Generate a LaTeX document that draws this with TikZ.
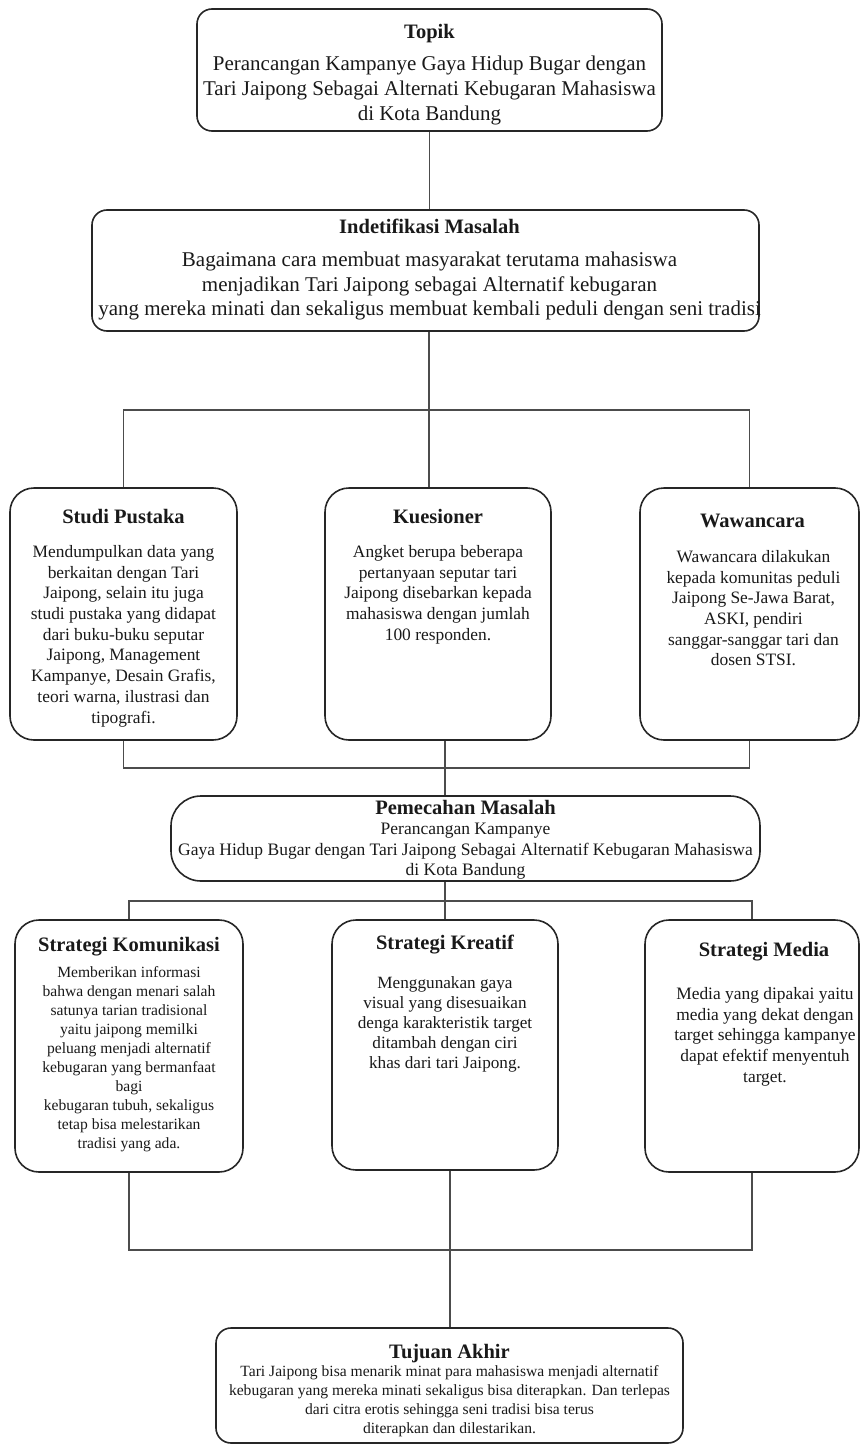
\documentclass[tikz,border=0pt]{standalone}
\usepackage{fontspec}
\setmainfont{Liberation Serif}
\usetikzlibrary{positioning}

\tikzset{
  kotak/.style={draw=black!85, line width=1.6pt, rounded corners=#1, inner sep=0pt},
  kotak/.default=24pt,
  judul/.style={inner sep=0pt, text=black!90, font=\fontsize{20.5}{24}\selectfont\bfseries},
  isi/.style={inner sep=0pt, align=center, text=black!90, font=\fontsize{17.4}{20.7}\selectfont},
  garis/.style={draw=black!70, line width=1.2pt}
}

\begin{document}
\begin{tikzpicture}[x=1pt,y=-1pt]
\useasboundingbox (0,0) rectangle (860,1447);

% kotak-kotak
\node[kotak=15pt, minimum width=465pt, minimum height=122pt] (topik) at (429.5,70) {};
\node[kotak=15pt, minimum width=667pt, minimum height=121pt] (masalah) at (425.5,270.5) {};

\node[kotak, minimum width=227pt, minimum height=252pt] (pustaka) at (123.5,614) {};
\node[kotak, minimum width=226pt, minimum height=252pt] (kuesioner) at (438,614) {};
\node[kotak, minimum width=219pt, minimum height=252pt] (wawancara) at (749.5,614) {};

\node[kotak=30pt, minimum width=589pt, minimum height=85pt] (pemecahan) at (465.5,838.5) {};

\node[kotak, minimum width=228pt, minimum height=252pt] (komunikasi) at (129,1046) {};
\node[kotak, minimum width=226pt, minimum height=250pt] (kreatif) at (445,1045) {};
\node[kotak, minimum width=214pt, minimum height=252pt] (media) at (752,1046) {};

\node[kotak=15pt, minimum width=467pt, minimum height=115pt] (tujuan) at (449.5,1385.5) {};

% titik cabang
\coordinate (cabang1) at (429,410);
\coordinate (cabang2) at (445,768);
\coordinate (cabang3) at (445,901);
\coordinate (cabang4) at (450,1250);

% garis penghubung
\draw[garis] (topik.south) -- (topik.south |- masalah.north);
\draw[garis] (masalah.south -| cabang1) -- (cabang1);
\draw[garis] (pustaka.north) |- (cabang1) -| (wawancara.north);
\draw[garis] (cabang1) -- (cabang1 |- kuesioner.north);

\draw[garis] (pustaka.south) |- (cabang2) -| (wawancara.south);
\draw[garis] (kuesioner.south -| cabang2) -- (cabang2 |- pemecahan.north);
\draw[garis] (pemecahan.south -| cabang3) -- (cabang3);
\draw[garis] (komunikasi.north) |- (cabang3) -| (media.north);
\draw[garis] (cabang3) -- (cabang3 |- kreatif.north);

\draw[garis] (komunikasi.south) |- (cabang4) -| (media.south);
\draw[garis] (kreatif.south -| cabang4) -- (cabang4 |- tujuan.north);

% teks
\node[judul, below=16pt of topik.north] (topikjudul) {Topik};
\node[isi, font=\fontsize{21}{25}\selectfont, below=48pt of topik.north] (topikisi)
  {Perancangan Kampanye Gaya Hidup Bugar dengan\\Tari Jaipong Sebagai Alternati Kebugaran Mahasiswa\\di Kota Bandung};

\node[judul, below=10pt of masalah.north, xshift=4pt] (masalahjudul) {Indetifikasi Masalah};
\node[isi, font=\fontsize{21}{24.5}\selectfont, below=43pt of masalah.north, xshift=4pt] (masalahisi)
  {Bagaimana cara membuat masyarakat terutama mahasiswa\\menjadikan Tari Jaipong sebagai Alternatif kebugaran\\yang mereka minati dan sekaligus membuat kembali peduli dengan seni tradisi};

\node[judul, below=22pt of pustaka.north] (pustakajudul) {Studi Pustaka};
\node[isi, below=58pt of pustaka.north] (pustakaisi)
  {Mendumpulkan data yang\\berkaitan dengan Tari\\Jaipong, selain itu juga\\studi pustaka yang didapat\\dari buku-buku seputar\\Jaipong, Management\\Kampanye, Desain Grafis,\\teori warna, ilustrasi dan\\tipografi.};

\node[judul, below=22pt of kuesioner.north] (kuesionerjudul) {Kuesioner};
\node[isi, below=58pt of kuesioner.north] (kuesionerisi)
  {Angket berupa beberapa\\pertanyaan seputar tari\\Jaipong disebarkan kepada\\mahasiswa dengan jumlah\\100 responden.};

\node[judul, below=27pt of wawancara.north, xshift=3pt] (wawancarajudul) {Wawancara};
\node[isi, below=63pt of wawancara.north, xshift=4pt] (wawancaraisi)
  {Wawancara dilakukan\\kepada komunitas peduli\\Jaipong Se-Jawa Barat,\\ASKI, pendiri\\sanggar-sanggar tari dan\\dosen STSI.};

\node[judul, below=5pt of pemecahan.north] (pemecahanjudul) {Pemecahan Masalah};
\node[isi, font=\fontsize{17.5}{20.5}\selectfont, below=28pt of pemecahan.north] (pemecahanisi)
  {Perancangan Kampanye\\Gaya Hidup Bugar dengan Tari Jaipong Sebagai Alternatif Kebugaran Mahasiswa\\di Kota Bandung};

\node[judul, below=18pt of komunikasi.north] (komunikasijudul) {Strategi Komunikasi};
\node[isi, font=\fontsize{15.6}{19}\selectfont, below=47pt of komunikasi.north] (komunikasiisi)
  {Memberikan informasi\\bahwa dengan menari salah\\satunya tarian tradisional\\yaitu jaipong memilki\\peluang menjadi alternatif\\kebugaran yang bermanfaat\\bagi\\kebugaran tubuh, sekaligus\\tetap bisa melestarikan\\tradisi yang ada.};

\node[judul, below=16pt of kreatif.north] (kreatifjudul) {Strategi Kreatif};
\node[isi, font=\fontsize{17.2}{20}\selectfont, below=57pt of kreatif.north] (kreatifisi)
  {Menggunakan gaya\\visual yang disesuaikan\\denga karakteristik target\\ditambah dengan ciri\\khas dari tari Jaipong.};

\node[judul, below=23pt of media.north, xshift=12pt] (mediajudul) {Strategi Media};
\node[isi, below=68pt of media.north, xshift=13pt] (mediaisi)
  {Media yang dipakai yaitu\\media yang dekat dengan\\target sehingga kampanye\\dapat efektif menyentuh\\target.};

\node[judul, below=17pt of tujuan.north] (tujuanjudul) {Tujuan Akhir};
\node[isi, font=\fontsize{15.6}{19}\selectfont, below=38pt of tujuan.north] (tujuanisi)
  {Tari Jaipong bisa menarik minat para mahasiswa menjadi alternatif\\kebugaran yang mereka minati sekaligus bisa diterapkan. Dan terlepas\\dari citra erotis sehingga seni tradisi bisa terus\\diterapkan dan dilestarikan.};

\end{tikzpicture}
\end{document}
